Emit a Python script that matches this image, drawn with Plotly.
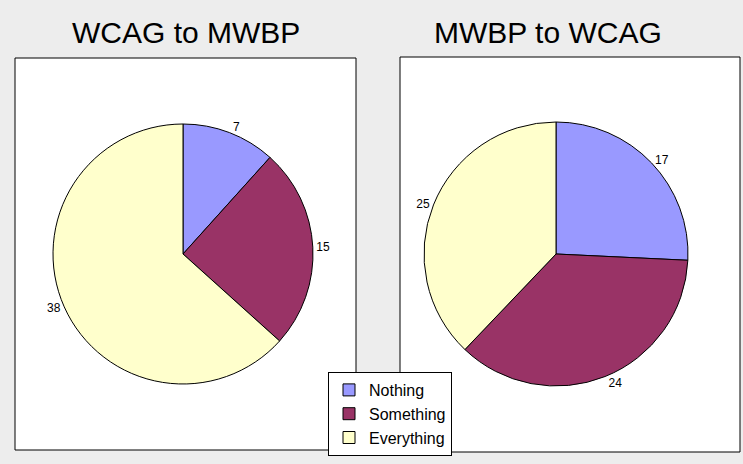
import plotly.graph_objects as go

categories = ["Nothing", "Something", "Everything"]
wcag_to_mwbp = [7, 15, 38]
mwbp_to_wcag = [17, 24, 25]
titles = ["WCAG to MWBP", "MWBP to WCAG"]
colors = ["#9999FF", "#993366", "#FFFFCC"]

FONT = "Liberation Sans, Arial, sans-serif"
W, H = 743, 464
BG = "#EDEDED"

def px(x0, y0, x1, y1):
    return dict(x=[x0 / W, x1 / W], y=[1 - y1 / H, 1 - y0 / H])

fig = go.Figure()
pie_common = dict(
    labels=categories,
    sort=False,
    direction="clockwise",
    rotation=0,
    textinfo="value",
    textposition="outside",
    textfont=dict(family=FONT, size=12, color="black"),
    marker=dict(colors=colors, line=dict(color="black", width=1)),
    hoverinfo="label+value+percent",
)
fig.add_trace(go.Pie(values=wcag_to_mwbp, domain=px(53, 124, 313, 384),
                     showlegend=True, **pie_common))
fig.add_trace(go.Pie(values=mwbp_to_wcag, domain=px(424, 122, 688, 386),
                     showlegend=False, **pie_common))

# panel boxes
for (x0, y0, x1, y1) in [(15, 58, 356, 450), (400, 57, 740, 452)]:
    fig.add_shape(type="rect", xref="paper", yref="paper",
                  x0=x0 / W, x1=x1 / W, y0=1 - y1 / H, y1=1 - y0 / H,
                  line=dict(color="black", width=1), fillcolor="white",
                  layer="below")

for t, cx in zip(titles, [186, 548]):
    fig.add_annotation(text=t, xref="paper", yref="paper", x=cx / W, y=1 - 33 / H,
                       showarrow=False, xanchor="center", yanchor="middle",
                       font=dict(family=FONT, size=30, color="black"))

fig.update_layout(
    width=W, height=H,
    margin=dict(l=0, r=0, t=0, b=0),
    paper_bgcolor=BG,
    plot_bgcolor=BG,
    font=dict(family=FONT, color="black"),
    legend=dict(x=328 / W, y=1 - 372 / H, xanchor="left", yanchor="top",
                bgcolor="white", bordercolor="black", borderwidth=1,
                font=dict(family=FONT, size=16, color="black"),
                itemwidth=30, traceorder="normal"),
)

fig.write_html(
    "out.html",
    config={"displayModeBar": False},
    post_script="document.body.style.margin='0';document.body.style.background='%s';" % BG,
)
